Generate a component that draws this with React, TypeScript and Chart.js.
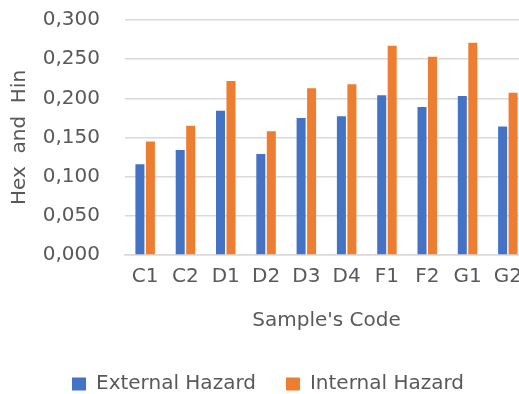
import React, { useEffect, useRef } from "react";
import { Chart, registerables } from "chart.js";

Chart.register(...registerables);

const categories = ["C1", "C2", "D1", "D2", "D3", "D4", "F1", "F2", "G1", "G2"];
const externalHazard = [0.116, 0.134, 0.184, 0.129, 0.175, 0.177, 0.204, 0.189, 0.203, 0.164];
const internalHazard = [0.145, 0.165, 0.222, 0.158, 0.213, 0.218, 0.267, 0.253, 0.271, 0.207];
const seriesNames = ["External Hazard", "Internal Hazard"];
const yTitle = "Hex  and  Hin";
const xTitle = "Sample's Code";

const FONT = "'DejaVu Sans', sans-serif";
const GREY = "#595959";

export default function App() {
  const ref = useRef<HTMLCanvasElement | null>(null);
  useEffect(() => {
    if (!ref.current) return;
    const chart = new Chart(ref.current, {
      type: "bar",
      data: {
        labels: categories,
        datasets: [
          {
            label: seriesNames[0],
            data: externalHazard,
            backgroundColor: "#4472C4",
            borderWidth: 0,
          },
          {
            label: seriesNames[1],
            data: internalHazard,
            backgroundColor: "#ED7D31",
            borderWidth: 0,
          },
        ],
      },
      options: {
        animation: false,
        responsive: false,
        maintainAspectRatio: false,
        layout: { padding: { left: 8, right: 8, top: 20, bottom: -10 } },
        datasets: { bar: { categoryPercentage: 0.52, barPercentage: 0.86 } },
        plugins: {
          tooltip: { enabled: false },
          legend: {
            position: "bottom",
            labels: {
              font: { family: FONT, size: 20 },
              color: GREY,
              boxWidth: 14,
              boxHeight: 13,
              padding: 30,
            },
          },
        },
        scales: {
          x: {
            grid: { display: false },
            border: { display: true, color: "#d9d9d9", width: 1.5 },
            ticks: { font: { family: FONT, size: 20 }, color: GREY, padding: 2, maxRotation: 0, autoSkip: false },
            title: {
              display: true,
              text: xTitle,
              font: { family: FONT, size: 20 },
              color: GREY,
              padding: { top: 18, bottom: 11 },
            },
          },
          y: {
            min: 0,
            max: 0.3,
            afterFit: (s: any) => {
              s.width = 117;
              s.paddingTop = 0;
              s.paddingBottom = 0;
            },
            border: { display: false },
            grid: { color: "#d9d9d9", lineWidth: 1.5, drawTicks: false },
            ticks: {
              stepSize: 0.05,
              padding: 25,
              font: { family: FONT, size: 20 },
              color: GREY,
              callback: (v: any) => Number(v).toFixed(3).replace(".", ","),
            },
            title: {
              display: true,
              text: yTitle,
              font: { family: FONT, size: 20 },
              color: GREY,
              padding: { top: 0, bottom: 4 },
            },
          },
        },
      },
    });
    return () => chart.destroy();
  }, []);
  return (
    <div style={{ position: "fixed", left: 0, top: 0, width: 519, height: 394, overflow: "hidden", background: "#fff" }}>
      <canvas ref={ref} width={536} height={394} style={{ width: 536, height: 394, display: "block" }} />
    </div>
  );
}
